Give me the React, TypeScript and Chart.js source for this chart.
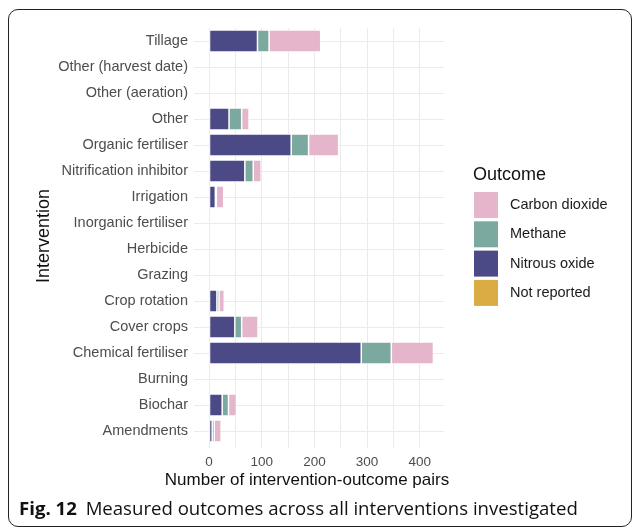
import React, { useEffect, useRef } from "react";
import { Chart, registerables } from "chart.js";

Chart.register(...registerables);

const categories = [
  "Tillage",
  "Other (harvest date)",
  "Other (aeration)",
  "Other",
  "Organic fertiliser",
  "Nitrification inhibitor",
  "Irrigation",
  "Inorganic fertiliser",
  "Herbicide",
  "Grazing",
  "Crop rotation",
  "Cover crops",
  "Chemical fertiliser",
  "Burning",
  "Biochar",
  "Amendments",
];

const nitrousOxide = [92, 0, 0, 38, 156, 68, 12, 0, 0, 0, 15, 49, 289, 0, 25, 6];
const methane = [22, 0, 0, 24, 33, 16, 2, 0, 0, 0, 4, 13, 57, 0, 12, 4];
const carbonDioxide = [98, 0, 0, 14, 57, 15, 14, 0, 0, 0, 10, 31, 80, 0, 15, 13];
const notReported = [0, 0, 0, 0, 0, 0, 0, 0, 0, 0, 0, 0, 0, 0, 0, 0];

const xTicks = [0, 50, 100, 150, 200, 250, 300, 350, 400];

const COLORS = {
  "Carbon dioxide": "#e4b5cb",
  Methane: "#7ba89f",
  "Nitrous oxide": "#4b4a86",
  "Not reported": "#d9ad44",
};

const legendOrder = ["Carbon dioxide", "Methane", "Nitrous oxide", "Not reported"];
const xTitle = "Number of intervention-outcome pairs";

const FONT = "'Liberation Sans', Arial, Helvetica, sans-serif";

const legendPlugin = {
  id: "ggLegend",
  afterDraw(chart: any) {
    const ctx = chart.ctx;
    ctx.save();
    // x axis title
    ctx.fillStyle = "#111";
    ctx.font = `17px ${FONT}`;
    ctx.textAlign = "center";
    ctx.textBaseline = "middle";
    ctx.fillText(xTitle, 299, 472);
    // legend
    const x0 = 466;
    ctx.font = `18px ${FONT}`;
    ctx.textAlign = "left";
    ctx.fillText("Outcome", x0 - 1, 167);
    ctx.font = `14.5px ${FONT}`;
    legendOrder.forEach((name, i) => {
      const cy = 197 + i * 29.3;
      ctx.fillStyle = (COLORS as any)[name];
      ctx.fillRect(x0, cy - 13, 24, 26);
      ctx.fillStyle = "#1a1a1a";
      ctx.fillText(name, x0 + 36, cy);
    });
    ctx.restore();
  },
};

export default function App() {
  const ref = useRef<HTMLCanvasElement>(null);

  useEffect(() => {
    if (!ref.current) return;
    const mk = (label: string, data: number[]) => ({
      label,
      data,
      backgroundColor: (COLORS as any)[label],
      borderColor: "#ffffff",
      borderWidth: 0.75,
      borderSkipped: false,
      categoryPercentage: 1,
      barPercentage: 0.84,
    });
    const chart = new Chart(ref.current, {
      type: "bar",
      data: {
        labels: categories,
        datasets: [
          mk("Nitrous oxide", nitrousOxide),
          mk("Methane", methane),
          mk("Carbon dioxide", carbonDioxide),
          mk("Not reported", notReported),
        ],
      },
      options: {
        indexAxis: "y",
        animation: false,
        responsive: false,
        maintainAspectRatio: false,
        layout: { padding: { left: 0, right: 182, top: 20, bottom: 0 } },
        plugins: {
          legend: { display: false },
          tooltip: { enabled: false },
        },
        scales: {
          x: {
            stacked: true,
            min: -19,
            max: 446,
            afterBuildTicks: (axis: any) => {
              axis.ticks = xTicks.map((v) => ({ value: v }));
            },
            afterFit: (scale: any) => {
              scale.height = 54;
            },
            ticks: {
              autoSkip: false,
              maxRotation: 0,
              padding: 6,
              color: "#4d4d4d",
              font: { family: FONT, size: 13.5 },
              callback: (v: any) => (Number(v) % 100 === 0 ? String(v) : ""),
            },
            grid: { color: "#ebebeb", lineWidth: 1, tickLength: 4, drawTicks: true },
            border: { display: false },
            title: { display: false },
          },
          y: {
            stacked: true,
            afterFit: (scale: any) => {
              scale.width = 191;
            },
            ticks: {
              autoSkip: false,
              padding: 6,
              color: "#4d4d4d",
              font: { family: FONT, size: 14.5 },
            },
            grid: { color: "#ebebeb", lineWidth: 1, offset: false, tickLength: 5, drawTicks: true },
            border: { display: false },
            title: {
              display: true,
              text: "Intervention",
              color: "#111",
              font: { family: FONT, size: 18 },
              padding: { top: 25, bottom: 0 },
            },
          },
        },
      },
      plugins: [legendPlugin],
    } as any);
    return () => chart.destroy();
  }, []);

  return (
    <>
      <div
        style={{
          position: "absolute",
          left: 8,
          top: 9,
          width: 624,
          height: 518,
          boxSizing: "border-box",
          border: "1px solid #222",
          borderRadius: 10,
        }}
      />
      <canvas
        ref={ref}
        width={618}
        height={490}
        style={{ position: "absolute", left: 8, top: 8, width: 618, height: 490 }}
      />
      <div
        style={{
          position: "absolute",
          left: 19,
          top: 494,
          fontFamily: "'Open Sans', 'Noto Sans', sans-serif",
          fontSize: 18.6,
          lineHeight: "28px",
          color: "#111",
          whiteSpace: "nowrap",
        }}
      >
        <b>Fig. 12</b>
        {"  "}
        <span style={{ marginLeft: 4 }}>Measured outcomes across all interventions investigated</span>
      </div>
    </>
  );
}
